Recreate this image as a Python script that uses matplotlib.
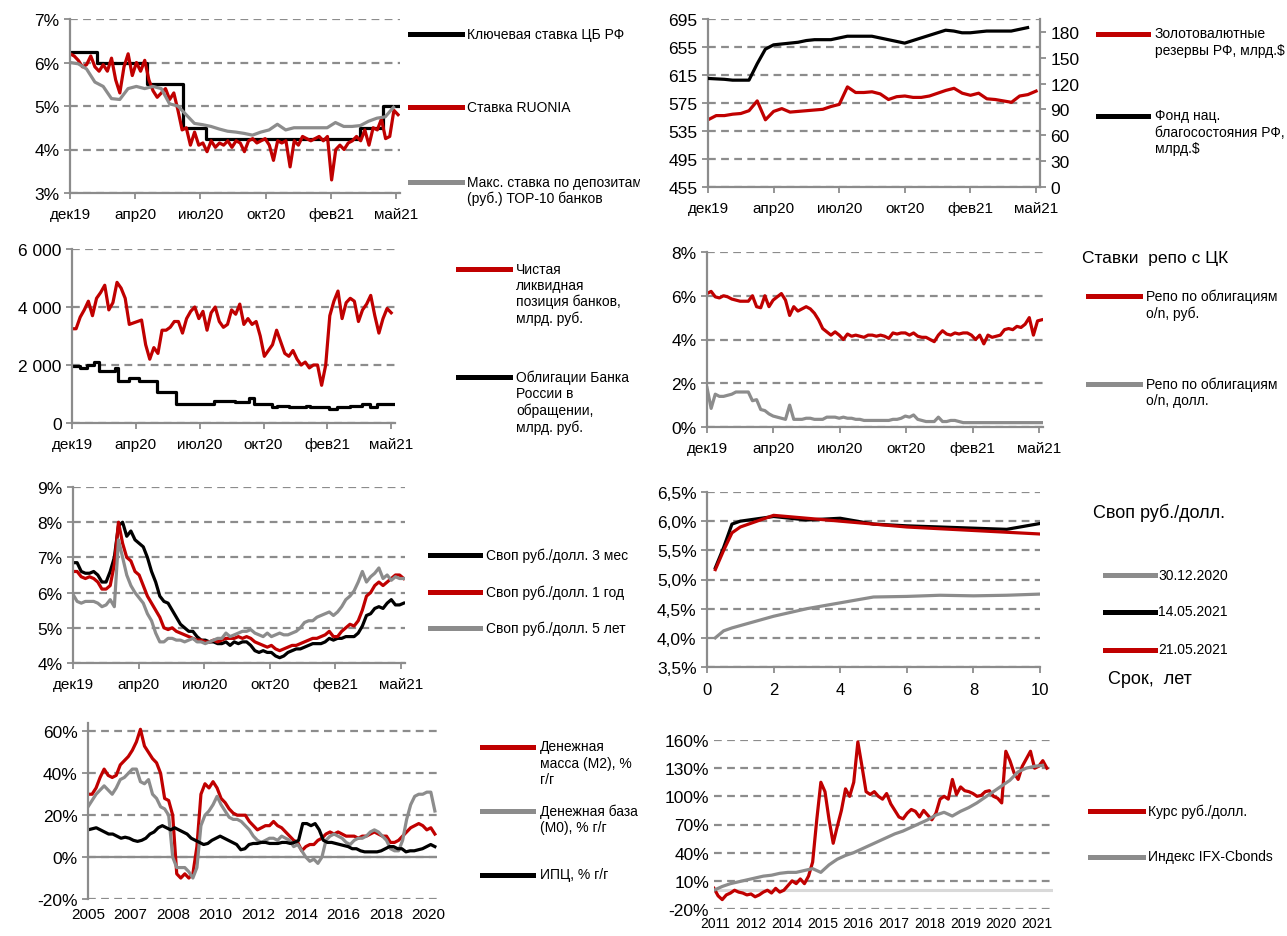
import numpy as np
import matplotlib.pyplot as plt
from matplotlib.lines import Line2D
from matplotlib.transforms import Bbox, TransformedBbox

plt.rcParams['font.family'] = ['Liberation Sans', 'DejaVu Sans']

RED = '#C00000'
GRAY = '#8C8C8C'
AXC = '#8C8C8C'

# ---------------- данные ----------------
# панели 1-5: ось времени в днях от 31.12.2019
MONTHS = ['дек19', 'апр20', 'июл20', 'окт20', 'фев21', 'май21']
month_ticks = np.linspace(0, 502, 6)

# 1. ставки
key_days = [0, 41, 118, 174, 209, 447, 482, 505]
key_rate = [6.25, 6.0, 5.5, 4.5, 4.25, 4.5, 5.0, 5.0]
ruonia = [6.2, 6.15, 6.05, 5.9, 5.95, 6.15, 5.9, 5.8, 5.95, 5.8, 6.1, 5.6, 5.3, 5.9, 6.2, 5.7,
          6.0, 5.8, 6.05, 5.6, 5.35, 5.2, 5.3, 5.4, 5.15, 5.3, 4.9, 4.45, 4.5, 4.1, 4.4, 4.1,
          4.15, 3.95, 4.2, 4.05, 4.15, 4.1, 4.2, 4.05, 4.2, 4.15, 3.95, 4.2, 4.25, 4.15, 4.2,
          4.25, 4.1, 3.75, 4.2, 4.15, 4.2, 3.6, 4.2, 4.1, 4.3, 4.25, 4.2, 4.25, 4.3, 4.2, 4.3,
          3.3, 4.0, 4.1, 4.0, 4.15, 4.2, 4.3, 4.2, 4.45, 4.1, 4.5, 4.45, 4.7, 4.25, 4.3, 4.9, 4.8]
ruonia_end = 505
deposit_max = [6.0, 5.97, 5.85, 5.55, 5.45, 5.17, 5.15, 5.4, 5.45, 5.4, 5.45, 5.4, 5.05, 5.0,
               4.8, 4.6, 4.57, 4.53, 4.47, 4.42, 4.4, 4.37, 4.33, 4.4, 4.45, 4.58, 4.45, 4.5,
               4.5, 4.5, 4.5, 4.5, 4.62, 4.53, 4.53, 4.55, 4.65, 4.72, 4.75, 4.97]
deposit_end = 498

# 2. резервы и ФНБ
reserves = [551, 557, 557, 559, 560, 564, 578, 551, 563, 567, 562, 563, 564, 565, 566, 570, 573,
            598, 590, 590, 591, 588, 580, 584, 585, 583, 583, 585, 589, 593, 596, 589, 586, 589,
            581, 580, 578, 576, 585, 587, 592]
reserves_end = 502
nwf = [126, 125.5, 125, 124, 124, 124, 143, 160, 165, 166, 167, 168, 170, 171, 171, 171, 173,
       175, 175, 175, 175, 173, 171, 169, 167, 170, 173, 176, 179, 182, 181, 179, 179, 180, 181,
       181, 181, 181, 183, 185]
nwf_end = 489

# 3. ликвидность
liquidity = [3250, 3250, 3650, 3900, 4200, 3700, 4300, 4500, 4750, 3900, 4150, 4850, 4650, 4300,
             3400, 3450, 3500, 3550, 2700, 2200, 2600, 2400, 3200, 3200, 3300, 3500, 3500, 3100,
             3600, 3850, 4000, 3600, 3850, 3200, 3800, 4000, 3500, 3300, 3400, 3900, 3750, 4100,
             3400, 3600, 3400, 3500, 3000, 2300, 2500, 2700, 3200, 2800, 2400, 2300, 2500, 2200,
             2000, 2100, 1900, 2000, 2000, 1300, 2000, 3700, 4200, 4550, 3600, 4150, 4300, 4200,
             3500, 3900, 4100, 4400, 3700, 3100, 3600, 3950, 3800]
liquidity_end = 502
bonds_days = [0, 13, 24, 35, 42, 68, 72, 89, 106, 134, 163, 224, 256, 278, 286, 315, 323, 342,
              368, 375, 404, 417, 438, 456, 468, 479, 505]
bonds = [1950, 1900, 2000, 2100, 1800, 1900, 1450, 1550, 1450, 1080, 660, 770, 720, 850, 640, 540,
         570, 540, 580, 540, 480, 540, 580, 650, 540, 650, 650]

# 4. репо
repo_rub = [6.1, 6.2, 5.95, 5.9, 6.0, 5.95, 5.85, 5.8, 5.75, 5.75, 5.75, 6.0, 5.5, 5.45, 6.0, 5.5,
            5.8, 5.95, 6.1, 5.8, 5.1, 5.5, 5.3, 5.4, 5.5, 5.4, 5.2, 4.9, 4.5, 4.35, 4.2, 4.35,
            4.2, 4.0, 4.25, 4.15, 4.2, 4.15, 4.1, 4.2, 4.2, 4.15, 4.2, 4.15, 4.05, 4.3, 4.25, 4.3,
            4.3, 4.2, 4.3, 4.15, 4.1, 4.1, 4.0, 3.9, 4.2, 4.4, 4.25, 4.2, 4.3, 4.25, 4.3, 4.3,
            4.2, 4.0, 4.2, 3.8, 4.2, 4.1, 4.15, 4.2, 4.45, 4.5, 4.45, 4.6, 4.55, 4.7, 5.0, 4.2,
            4.85, 4.9]
repo_usd = [1.8, 0.85, 1.5, 1.4, 1.4, 1.45, 1.5, 1.6, 1.6, 1.6, 1.6, 1.2, 1.25, 0.8, 0.75, 0.6,
            0.5, 0.45, 0.4, 0.35, 1.0, 0.35, 0.35, 0.35, 0.4, 0.4, 0.35, 0.35, 0.35, 0.45, 0.45,
            0.45, 0.4, 0.45, 0.4, 0.4, 0.35, 0.35, 0.3, 0.3, 0.3, 0.3, 0.3, 0.3, 0.3, 0.35, 0.35,
            0.4, 0.5, 0.45, 0.55, 0.35, 0.3, 0.25, 0.25, 0.25, 0.45, 0.25, 0.25, 0.3, 0.3, 0.25,
            0.2, 0.2, 0.2, 0.2, 0.2, 0.2, 0.2, 0.2, 0.2, 0.2, 0.2, 0.2, 0.2, 0.2, 0.2, 0.2, 0.2,
            0.2, 0.2, 0.2]
repo_end = 506

# 5. свопы
swap_3m = [6.85, 6.85, 6.6, 6.55, 6.55, 6.6, 6.5, 6.3, 6.3, 6.6, 7.0, 7.9, 8.0, 7.6, 7.75, 7.5,
           7.4, 7.3, 7.0, 6.6, 6.3, 5.9, 5.75, 5.7, 5.5, 5.3, 5.1, 5.0, 4.9, 4.9, 4.75, 4.65, 4.65,
           4.6, 4.6, 4.55, 4.55, 4.6, 4.5, 4.6, 4.55, 4.6, 4.6, 4.5, 4.35, 4.3, 4.35, 4.3, 4.3,
           4.2, 4.15, 4.2, 4.3, 4.35, 4.4, 4.4, 4.45, 4.5, 4.55, 4.55, 4.55, 4.6, 4.7, 4.65, 4.7,
           4.7, 4.75, 4.75, 4.75, 4.85, 5.05, 5.35, 5.4, 5.55, 5.6, 5.55, 5.7, 5.8, 5.65, 5.65, 5.7]
swap_1y = [6.6, 6.6, 6.45, 6.4, 6.45, 6.4, 6.3, 6.1, 6.1, 6.2, 6.8, 8.0, 7.4, 7.0, 6.9, 6.6, 6.5,
           6.2, 5.9, 5.7, 5.5, 5.3, 5.0, 4.95, 5.0, 4.9, 4.85, 4.8, 4.75, 4.7, 4.65, 4.65, 4.6,
           4.6, 4.65, 4.6, 4.65, 4.7, 4.7, 4.7, 4.75, 4.7, 4.75, 4.7, 4.6, 4.55, 4.5, 4.45, 4.5,
           4.4, 4.35, 4.4, 4.45, 4.5, 4.5, 4.55, 4.6, 4.65, 4.7, 4.7, 4.75, 4.8, 4.9, 4.75, 4.75,
           4.9, 5.0, 5.1, 5.05, 5.2, 5.5, 5.9, 6.0, 6.2, 6.3, 6.2, 6.3, 6.4, 6.5, 6.5, 6.4]
swap_5y = [5.95, 5.75, 5.7, 5.75, 5.75, 5.75, 5.7, 5.6, 5.65, 5.8, 5.6, 7.5, 7.0, 6.5, 6.2, 6.0,
           5.85, 5.7, 5.4, 5.2, 4.85, 4.6, 4.6, 4.7, 4.7, 4.65, 4.65, 4.6, 4.65, 4.7, 4.6, 4.6,
           4.55, 4.6, 4.65, 4.7, 4.7, 4.85, 4.75, 4.8, 4.85, 4.9, 4.9, 4.95, 4.85, 4.8, 4.75,
           4.85, 4.75, 4.8, 4.85, 4.8, 4.8, 4.85, 4.9, 5.0, 5.15, 5.2, 5.2, 5.3, 5.35, 5.4, 5.45,
           5.35, 5.45, 5.6, 5.8, 5.9, 6.05, 6.3, 6.6, 6.3, 6.45, 6.55, 6.7, 6.4, 6.5, 6.35, 6.45,
           6.4, 6.4]
swap_end = 506

# 6. кривая свопов
tenors = [0.25, 0.5, 0.75, 1, 2, 3, 4, 5, 6, 7, 8, 9, 10]
curve_301220 = [4.0, 4.12, 4.17, 4.21, 4.37, 4.5, 4.6, 4.7, 4.71, 4.73, 4.72, 4.73, 4.75]
curve_140521 = [5.2, 5.55, 5.95, 6.0, 6.08, 6.02, 6.05, 5.95, 5.92, 5.9, 5.88, 5.86, 5.96]
curve_210521 = [5.17, 5.5, 5.8, 5.9, 6.1, 6.05, 6.0, 5.95, 5.9, 5.87, 5.84, 5.81, 5.78]

# 7. денежная масса (ось: номер подписи года)
YEARS7 = ['2005', '2007', '2008', '2010', '2012', '2014', '2016', '2018', '2020']
m2 = [30, 30, 33, 38, 42, 39, 38, 39, 44, 46, 48, 51, 55, 61, 53, 50, 47, 45, 40, 28, 27, 20,
      -8, -10, -8, -10, -8, 5, 30, 35, 33, 36, 33, 28, 26, 23, 21, 20, 20, 20, 17, 15, 13, 14,
      15, 15, 17, 15, 14, 12, 10, 8, 7, 3, 5, 6, 6, 8, 9, 11, 12, 11, 12, 11, 10, 10, 10, 9,
      10, 10, 11, 12, 11, 10, 10, 7, 7, 8, 10, 12, 14, 15, 16, 15, 13, 14, 11]
m0 = [24, 27, 30, 32, 34, 32, 30, 33, 37, 38, 40, 42, 42, 36, 35, 37, 30, 28, 24, 23, 20, 0,
      -5, -5, -5, -7, -10, -5, 15, 20, 22, 25, 29, 25, 22, 19, 18, 18, 17, 15, 13, 10, 8, 7, 8,
      9, 9, 8, 10, 9, 8, 5, 6, 3, 0, -2, -1, -3, 0, 8, 10, 11, 10, 9, 7, 6, 8, 9, 9, 10, 12, 13,
      12, 10, 8, 4, 3, 3, 8, 18, 25, 29, 30, 30, 31, 31, 22]
cpi = [13, 13.5, 14, 13, 12, 11, 11, 10, 9, 9.5, 9, 8, 7.5, 8, 9, 11, 12, 14, 15, 14, 13, 14, 13,
       12, 11, 9, 8, 7, 6, 6.5, 8, 9, 10, 9, 8, 7, 6, 3.5, 4, 6, 6.5, 6.5, 7, 7, 6.5, 6.5, 6.5,
       7, 7, 6.5, 7, 8, 16, 16, 15, 16, 13, 8, 7, 7, 6.5, 6, 5.5, 5, 4, 4, 3, 2.5, 2.5, 2.5, 2.5,
       3, 4, 5, 5, 4, 4, 2.5, 3, 3, 3.5, 4, 5, 6, 5]
money_end = 8.15

# 8. курс и индекс облигаций (ось: номер подписи года)
YEARS8 = ['2011', '2012', '2014', '2015', '2016', '2017', '2018', '2019', '2020', '2021']
usdrub = [2, -6, -10, -5, -3, 0, -2, -3, -5, -4, -7, -5, -2, 0, -3, 2, -2, 0, 5, 10, 7, 12, 7,
          15, 30, 75, 115, 105, 75, 50, 68, 85, 108, 100, 115, 158, 132, 105, 102, 105, 100, 97,
          103, 92, 85, 78, 76, 82, 86, 84, 78, 85, 80, 75, 82, 97, 100, 97, 118, 102, 110, 106,
          105, 103, 100, 101, 105, 106, 100, 98, 93, 148, 138, 125, 118, 132, 140, 148, 130, 132,
          138, 130]
usdrub_end = 9.28
ifx = [0, 4, 7, 9, 11, 13, 15, 16, 18, 19, 19, 21, 23, 19, 27, 33, 37, 40, 44, 48, 52, 56, 60,
       63, 67, 71, 75, 80, 83, 79, 84, 88, 93, 99, 105, 111, 117, 126, 130, 132, 133]
ifx_end = 9.16
start8 = -0.03

# ---------------- оформление ----------------
W, H = 1287, 937
fig = plt.figure(figsize=(W / 100, H / 100), dpi=100)
YT, XT, LEG = 12.5, 11, 10


def px_axes(l, t, r, b):
    return fig.add_axes([l / W, 1 - b / H, (r - l) / W, (b - t) / H])


def style(ax, grid=True):
    for s in ['top', 'right']:
        ax.spines[s].set_visible(False)
    for s in ['left', 'bottom']:
        ax.spines[s].set_color(AXC)
        ax.spines[s].set_linewidth(1.6)
    ax.tick_params(axis='both', colors=AXC, labelcolor='black', length=4, width=1.3)
    ax.tick_params(axis='y', labelsize=YT)
    ax.tick_params(axis='x', labelsize=XT, pad=6)
    if grid:
        ax.yaxis.grid(True, color=AXC, ls=(0, (3.5, 2.4)), lw=1.6)
    ax.set_axisbelow(True)
    ax.patch.set_alpha(0)


def clip_right(t, right_px):
    t.set_clip_box(TransformedBbox(Bbox.from_extents(0, 0, right_px / W, 1), fig.transFigure))
    t.set_clip_on(True)


def entry(x0, x1, y, color, label, tx, clip=None):
    fig.add_artist(Line2D([x0 / W, x1 / W], [1 - y / H, 1 - y / H], color=color, lw=3.6))
    t = fig.text(tx / W, 1 - (y - 7.5) / H, label, va='top', ha='left', fontsize=LEG,
                 linespacing=1.2)
    if clip:
        clip_right(t, clip)


def time_axis(ax):
    ax.set_xlim(0, 508)
    ax.set_xticks(month_ticks)
    ax.set_xticklabels(MONTHS)


def pct(ax, ticks, fmt='{:.0f}%'):
    ax.set_yticks(ticks)
    ax.set_yticklabels([fmt.format(v).replace('.', ',') for v in ticks])


LW = 2.3

# ---- панель 1 ----
ax1 = px_axes(70, 20, 400, 194)
style(ax1)
ax1.step(key_days, key_rate, where='post', color='black', lw=LW)
ax1.plot(np.linspace(0, ruonia_end, len(ruonia)), ruonia, color=RED, lw=LW)
ax1.plot(np.linspace(0, deposit_end, len(deposit_max)), deposit_max, color=GRAY, lw=LW)
ax1.set_ylim(3, 7)
pct(ax1, [3, 4, 5, 6, 7])
time_axis(ax1)
entry(410, 462, 35, 'black', 'Ключевая ставка ЦБ РФ', 467)
entry(410, 462, 108, RED, 'Ставка RUONIA', 467)
entry(410, 462, 183, GRAY, 'Макс. ставка по депозитам\n(руб.) ТОР-10 банков', 467, clip=640)

# ---- панель 2 ----
ax2 = px_axes(708, 20, 1040, 188)
style(ax2)
ax2.plot(np.linspace(0, reserves_end, len(reserves)), reserves, color=RED, lw=LW)
ax2.set_ylim(455, 695)
ax2.set_yticks(np.arange(455, 696, 40))
time_axis(ax2)
ax2r = ax2.twinx()
ax2r.plot(np.linspace(0, nwf_end, len(nwf)), nwf, color='black', lw=LW)
ax2r.set_ylim(0, 195)
ax2r.set_yticks(np.arange(0, 181, 30))
for s in ['top', 'left', 'bottom']:
    ax2r.spines[s].set_visible(False)
ax2r.spines['right'].set_color(AXC)
ax2r.spines['right'].set_linewidth(1.6)
ax2r.tick_params(axis='y', colors=AXC, labelcolor='black', length=4, width=1.3, labelsize=YT)
entry(1098, 1148, 35, RED, 'Золотовалютные\nрезервы РФ, млрд.$', 1155)
entry(1098, 1148, 117, 'black', 'Фонд нац.\nблагосостояния РФ,\nмлрд.$', 1155)

# ---- панель 3 ----
ax3 = px_axes(72, 250, 395, 424)
style(ax3)
ax3.plot(np.linspace(0, liquidity_end, len(liquidity)), liquidity, color=RED, lw=LW)
ax3.step(bonds_days, bonds, where='post', color='black', lw=LW)
ax3.set_ylim(0, 6000)
ax3.set_yticks([0, 2000, 4000, 6000])
ax3.set_yticklabels(['0', '2 000', '4 000', '6 000'])
time_axis(ax3)
entry(458, 510, 270, RED, 'Чистая\nликвидная\nпозиция банков,\nмлрд. руб.', 516)
entry(458, 510, 378, 'black', 'Облигации Банка\nРоссии в\nобращении,\nмлрд. руб.', 516, clip=640)

# ---- панель 4 ----
ax4 = px_axes(707, 253, 1043, 428)
style(ax4)
ax4.plot(np.linspace(0, repo_end, len(repo_rub)), repo_rub, color=RED, lw=LW)
ax4.plot(np.linspace(0, repo_end, len(repo_usd)), repo_usd, color=GRAY, lw=LW)
ax4.set_ylim(0, 8)
pct(ax4, [0, 2, 4, 6, 8])
time_axis(ax4)
fig.text(1082 / W, 1 - 258 / H, 'Ставки  репо с ЦК', fontsize=12.5, va='center')
entry(1088, 1140, 297, RED, 'Репо по облигациям\nо/n, руб.', 1146)
entry(1088, 1140, 385, GRAY, 'Репо по облигациям\nо/n, долл.', 1146)

# ---- панель 5 ----
ax5 = px_axes(73, 488, 405, 664)
style(ax5)
ax5.plot(np.linspace(0, swap_end, len(swap_3m)), swap_3m, color='black', lw=LW)
ax5.plot(np.linspace(0, swap_end, len(swap_1y)), swap_1y, color=RED, lw=LW)
ax5.plot(np.linspace(0, swap_end, len(swap_5y)), swap_5y, color=GRAY, lw=LW)
ax5.set_ylim(4, 9)
pct(ax5, [4, 5, 6, 7, 8, 9])
time_axis(ax5)
entry(430, 480, 556, 'black', 'Своп руб./долл. 3 мес', 486, clip=640)
entry(430, 480, 593, RED, 'Своп руб./долл. 1 год', 486, clip=640)
entry(430, 480, 629, GRAY, 'Своп руб./долл. 5 лет', 486, clip=640)

# ---- панель 6 ----
ax6 = px_axes(707, 493, 1040, 668)
style(ax6)
ax6.plot(tenors, curve_301220, color=GRAY, lw=LW)
ax6.plot(tenors, curve_140521, color='black', lw=LW)
ax6.plot(tenors, curve_210521, color=RED, lw=LW)
ax6.set_ylim(3.5, 6.5)
pct(ax6, [3.5, 4.0, 4.5, 5.0, 5.5, 6.0, 6.5], fmt='{:.1f}%')
ax6.set_xlim(0, 10)
ax6.set_xticks(range(0, 11, 2))
ax6.tick_params(axis='x', labelsize=12, pad=7)
fig.text(1093 / W, 1 - 513 / H, 'Своп руб./долл.', fontsize=13, va='center')
entry(1105, 1155, 576, GRAY, '30.12.2020', 1158)
entry(1105, 1155, 613, 'black', '14.05.2021', 1158)
entry(1105, 1155, 651, RED, '21.05.2021', 1158)
fig.text(1108 / W, 1 - 680 / H, 'Срок,  лет', fontsize=13, va='center')

# ---- панель 7 ----
ax7 = px_axes(88, 724, 437, 900)
style(ax7)
ax7.spines['bottom'].set_visible(False)
ax7.axhline(0, color=AXC, lw=1.6, zorder=1)
ax7.plot(np.linspace(0, money_end, len(m2)), m2, color=RED, lw=LW)
ax7.plot(np.linspace(0, money_end, len(m0)), m0, color=GRAY, lw=LW)
ax7.plot(np.linspace(0, money_end, len(cpi)), cpi, color='black', lw=LW)
ax7.set_ylim(-20, 64)
pct(ax7, [-20, 0, 20, 40, 60])
ax7.set_xlim(0, 8.2)
ax7.set_xticks(range(len(YEARS7)))
ax7.set_xticklabels(YEARS7)
ax7.tick_params(axis='x', length=0, pad=6, labelsize=11)

# ---- панель 8 ----
ax8 = px_axes(714, 741, 1053, 910)
style(ax8)
ax8.spines['left'].set_visible(False)
ax8.spines['bottom'].set_visible(False)
ax8.axhline(0, color='#D9D9D9', lw=2.2, zorder=1)
ax8.plot(np.linspace(start8, usdrub_end, len(usdrub)), usdrub, color=RED, lw=LW)
ax8.plot(np.linspace(start8, ifx_end, len(ifx)), ifx, color=GRAY, lw=LW)
ax8.set_ylim(-20, 160)
pct(ax8, list(range(-20, 161, 30)))
ax8.set_xlim(-0.03, 9.45)
ax8.set_xticks(range(len(YEARS8)))
ax8.set_xticklabels(YEARS8)
ax8.tick_params(axis='both', length=0)
ax8.tick_params(axis='x', pad=5, labelsize=10)
entry(482, 533, 748, RED, 'Денежная\nмасса (М2), %\nг/г', 540, clip=640)
entry(482, 533, 812, GRAY, 'Денежная база\n(М0), % г/г', 540, clip=640)
entry(482, 533, 876, 'black', 'ИПЦ, % г/г', 540, clip=640)
entry(1090, 1143, 812, RED, 'Курс руб./долл.', 1148)
entry(1090, 1143, 858, GRAY, 'Индекс IFX-Cbonds', 1148)

fig.savefig('out.png', dpi=100)
